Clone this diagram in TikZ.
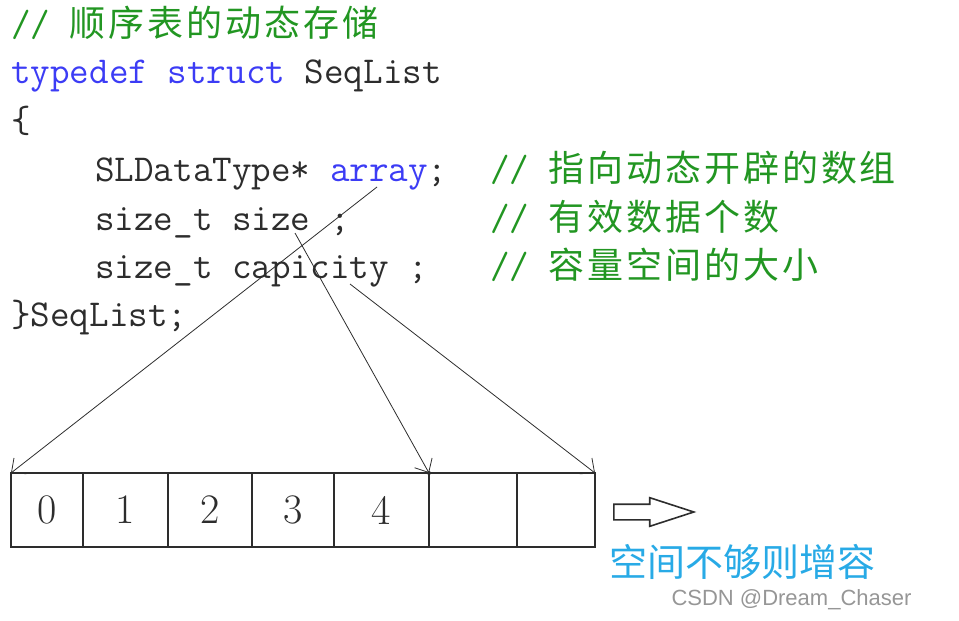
\documentclass[tikz,border=0pt]{standalone}
\usepackage{fontspec}
\usepackage{tikz}
\usetikzlibrary{arrows.meta,positioning,shapes.arrows}
\setsansfont{Liberation Sans}
\newfontfamily\cjk[LetterSpace=8]{Noto Sans CJK SC}
\newfontfamily\cjkplain{Noto Sans CJK SC}
\definecolor{codegreen}{RGB}{34,150,34}
\definecolor{codeblue}{RGB}{60,60,245}
\definecolor{codeink}{RGB}{45,45,45}
\definecolor{tipblue}{RGB}{40,170,230}
\definecolor{markgray}{RGB}{150,150,150}
\newcommand{\kw}[1]{\textcolor{codeblue}{#1}}
\newcommand{\zh}[1]{{\cjk\fontsize{36}{40}\selectfont #1}}

\begin{document}
\begin{tikzpicture}[x=1pt, y=-1pt,
    code/.style={anchor=base west, inner sep=0pt, font=\fontsize{38}{40}\selectfont\ttfamily, text=codeink},
    cmt/.style={code, text=codegreen},
    cell/.style={draw=codeink, line width=1.6pt, outer sep=0pt, inner sep=0pt, minimum height=74pt, font=\fontsize{42}{44}\selectfont, text=codeink},
    hollow/.style={single arrow, draw=codeink, line width=1.6pt, inner sep=7pt, minimum height=80pt, single arrow head extend=6.5pt, single arrow tip angle=36, single arrow head indent=0pt},
    ptr/.style={-{Straight Barb[length=11pt,width=20pt]}, line width=0.8pt, draw=codeink}
  ]
  \useasboundingbox (0,0) rectangle (959,621);
  % struct source
  \node[cmt] (head) at (11,36) {// \zh{顺序表的动态存储}};
  \node[code] (tdef) at (11,83) {\kw{typedef struct} SeqList};
  \node[code] (open) at (11,132) {\{};
  \node[code] (farr) at (95,181) {SLDataType* \kw{array};};
  \node[code] (fsize) at (95,230) {size\_t size ;};
  \node[code] (fcap) at (95,278) {size\_t capicity ;};
  \node[code] (close) at (11,326) {\}SeqList;};
  \node[cmt] (carr) at (490,181) {// \zh{指向动态开辟的数组}};
  \node[cmt] (csize) at (490,230) {// \zh{有效数据个数}};
  \node[cmt] (ccap) at (490,278) {// \zh{容量空间的大小}};

  % the array
  \node[cell, minimum width=72pt] (c0) at (47,510) {0};
  \node[cell, minimum width=85pt, right=0pt of c0] (c1) {1};
  \node[cell, minimum width=84pt, right=0pt of c1] (c2) {2};
  \node[cell, minimum width=82pt, right=0pt of c2] (c3) {3};
  \node[cell, minimum width=95pt, right=0pt of c3] (c4) {4};
  \node[cell, minimum width=88pt, right=0pt of c4] (c5) {};
  \node[cell, minimum width=78pt, right=0pt of c5] (c6) {};

  \node[hollow, anchor=tail] (more) at (613,512) {};
  \node[font=\cjkplain\fontsize{38}{40}\selectfont, text=tipblue] (moretxt) at (742,562) {空间不够则增容};
  \node[font=\sffamily\fontsize{22}{24}\selectfont, text=markgray, anchor=west] (mark) at (668,600) {CSDN @Dream\_Chaser};

  % pointers from the fields
  \coordinate (pArr) at (377,187);
  \coordinate (pSize) at (295,233);
  \coordinate (pCap) at (350,284);
  \draw[ptr] (pArr) -- (c0.north west);
  \draw[ptr] (pSize) -- (c5.north west);
  \draw[ptr] (pCap) -- (c6.north east);
  \fill[codeink] (c5.north west) circle (2pt);
\end{tikzpicture}
\end{document}
